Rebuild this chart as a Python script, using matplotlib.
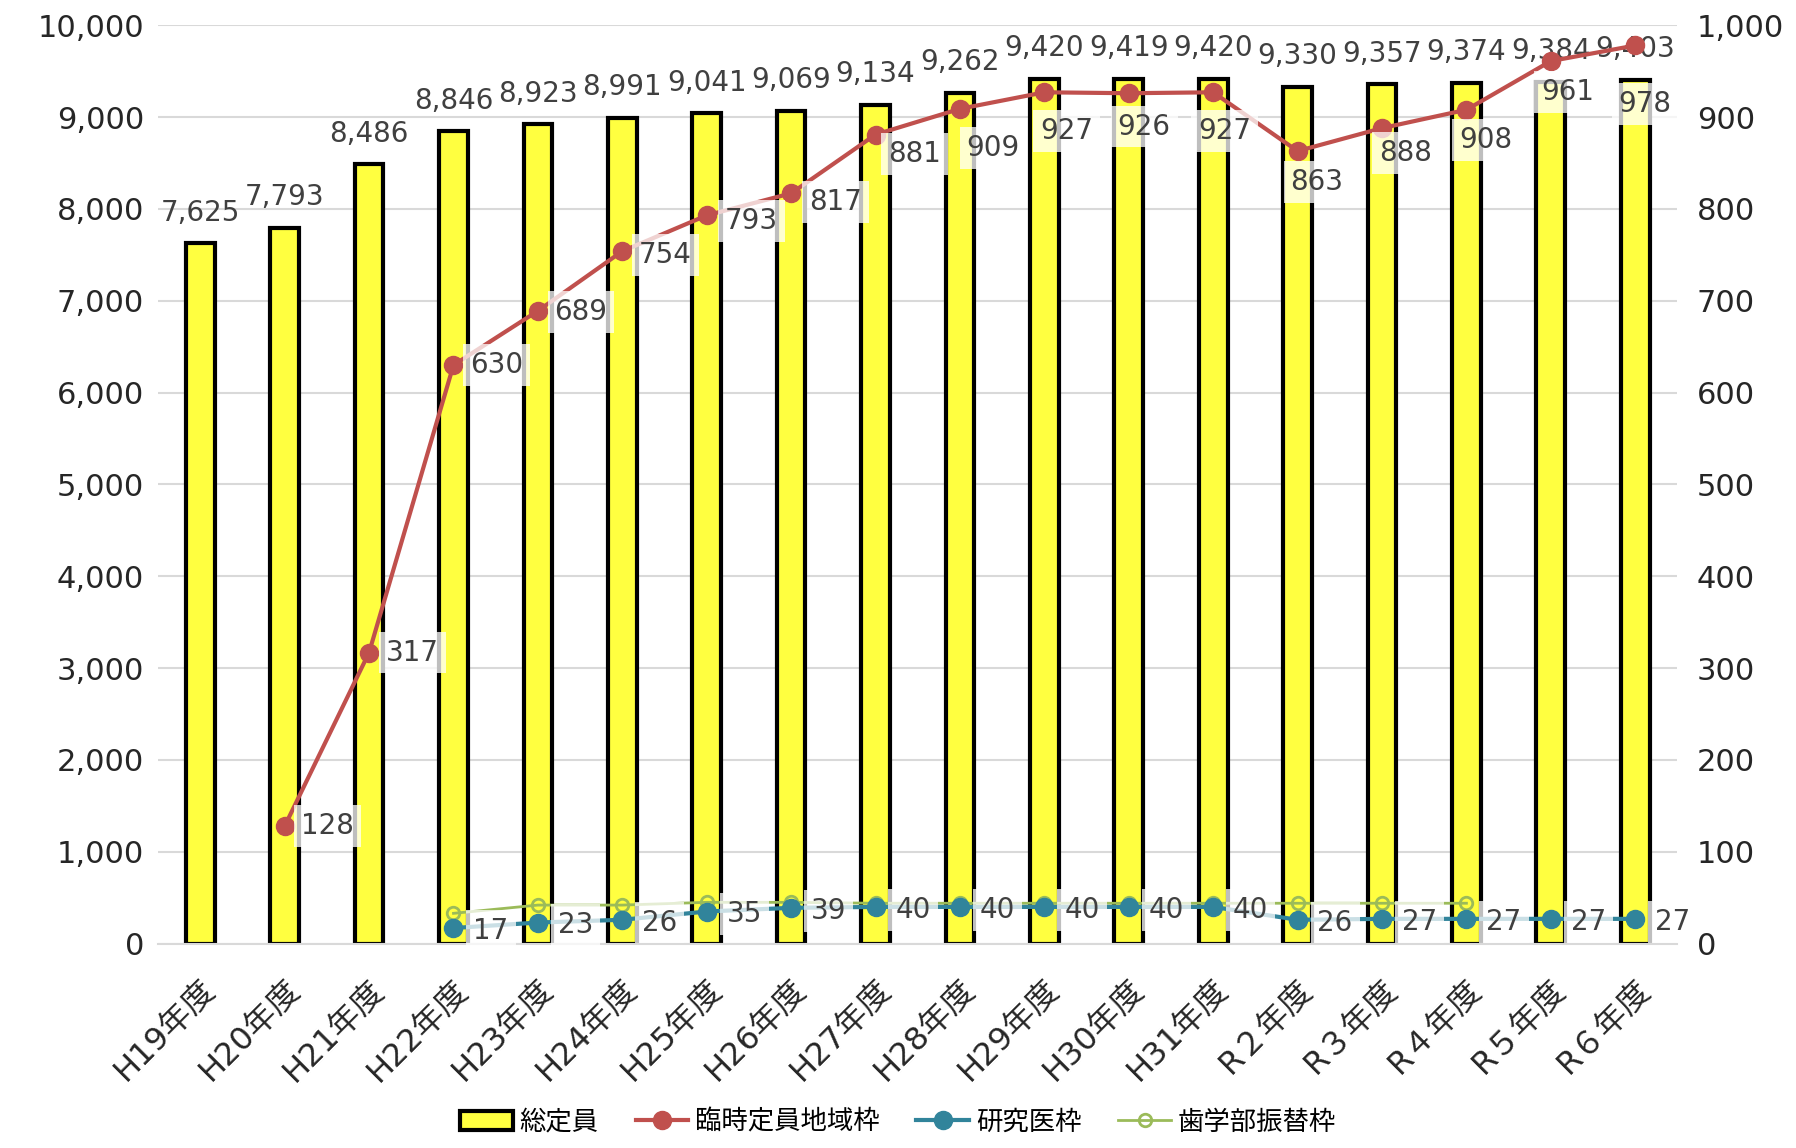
import matplotlib
matplotlib.use("Agg")
import matplotlib.pyplot as plt

plt.rcParams['font.family'] = ['DejaVu Sans', 'Noto Sans CJK JP']

# ----------------------------
# data
# ----------------------------
years = ["H19年度", "H20年度", "H21年度", "H22年度", "H23年度", "H24年度",
         "H25年度", "H26年度", "H27年度", "H28年度", "H29年度", "H30年度",
         "H31年度", "R２年度", "R３年度", "R４年度", "R５年度", "R６年度"]

total = [7625, 7793, 8486, 8846, 8923, 8991, 9041, 9069, 9134, 9262,
         9420, 9419, 9420, 9330, 9357, 9374, 9384, 9403]

# 臨時定員地域枠 (starts H20)
regional = [None, 128, 317, 630, 689, 754, 793, 817, 881, 909,
            927, 926, 927, 863, 888, 908, 961, 978]

# 研究医枠 (starts H22)
research = [None, None, None, 17, 23, 26, 35, 39, 40, 40,
            40, 40, 40, 26, 27, 27, 27, 27]

# 歯学部振替枠 (H22 - R4, values read off, no labels)
dental = [None, None, None, 33, 42, 42, 45, 45, 44, 44,
          44, 44, 44, 44, 44, 44, None, None]

RED = "#C0504D"
BLUE = "#31849B"
GREEN = "#9BBB59"
TXT = "#404040"

fig = plt.figure(figsize=(17.96, 11.48), dpi=100)
ax = fig.add_axes([0.088, 0.178, 0.846, 0.800])
ax2 = ax.twinx()

x = list(range(len(years)))

# bars
ax.bar(x, total, width=0.34, color="#FFFF40", edgecolor="black", linewidth=3,
       zorder=2, label="総定員")
for i, v in enumerate(total):
    ax.annotate(f"{v:,}", (i, v), xytext=(0, 12), textcoords="offset points",
                ha="center", va="bottom", fontsize=20, color=TXT)

ax.set_ylim(0, 10000)
ax.set_yticks(range(0, 10001, 1000))
ax.set_yticklabels([f"{v:,}" for v in range(0, 10001, 1000)])
ax.set_xlim(-0.5, len(years) - 0.5)
ax.set_xticks(x)
ax.set_xticklabels(years, rotation=45, ha="right", rotation_mode="anchor")
ax.grid(axis="y", color="#D9D9D9", linewidth=1.5, zorder=0)
ax.set_axisbelow(True)
ax.tick_params(axis="y", length=0, labelsize=22, colors="#262626", pad=10)
ax.tick_params(axis="x", length=0, labelsize=23, colors="#262626", pad=22)

ax2.set_ylim(0, 1000)
ax2.set_yticks(range(0, 1001, 100))
ax2.set_yticklabels([f"{v:,}" for v in range(0, 1001, 100)])
ax2.tick_params(axis="y", length=0, labelsize=22, colors="#262626", pad=14)

for a in (ax, ax2):
    for s in a.spines.values():
        s.set_visible(False)
ax.spines["bottom"].set_visible(True)
ax.spines["bottom"].set_color("#D9D9D9")
ax.spines["bottom"].set_linewidth(1.5)


def pts(series):
    xs = [i for i, v in enumerate(series) if v is not None]
    return xs, [series[i] for i in xs]


rx, ry = pts(regional)
bx, by = pts(research)
gx, gy = pts(dental)

ax2.plot(gx, gy, color=GREEN, linewidth=2, marker="o", markersize=9,
         markerfacecolor="none", markeredgewidth=2, zorder=3, label="歯学部振替枠")
ax2.plot(bx, by, color=BLUE, linewidth=3, marker="o", markersize=13,
         zorder=4, label="研究医枠")
ax2.plot(rx, ry, color=RED, linewidth=3, marker="o", markersize=13,
         zorder=5, label="臨時定員地域枠")

# label offsets (points) for the red series, H20..R6
red_offsets = [(31, 0), (31, 0), (31, 0), (31, -1), (31, -3), (32, -4), (32, -6),
               (28, -14), (24, -28), (16, -28), (11, -24), (8, -28),
               (14, -22), (17, -18), (14, -22), (12, -22), (7, -42)]
box = dict(boxstyle="square,pad=0.25", facecolor="white", edgecolor="none", alpha=0.75)
for (xi, yi), off in zip(zip(rx, ry), red_offsets):
    ax2.annotate(f"{yi}", (xi, yi), xytext=off, textcoords="offset points",
                 ha="center", va="center", fontsize=20, color=TXT, bbox=box, zorder=6)

for xi, yi in zip(bx, by):
    ax2.annotate(f"{yi}", (xi, yi), xytext=(27, -2), textcoords="offset points",
                 ha="center", va="center", fontsize=20, color=TXT, bbox=box, zorder=6)

h1, l1 = ax.get_legend_handles_labels()
h2, l2 = ax2.get_legend_handles_labels()
order = [2, 1, 0]
handles = h1 + [h2[i] for i in order]
labels = l1 + [l2[i] for i in order]
fig.legend(handles, labels, loc="lower center", ncol=4, frameon=False,
           fontsize=19, bbox_to_anchor=(0.5, -0.01), handlelength=2.0,
           columnspacing=1.4, handletextpad=0.25)

fig.savefig("out.png", dpi=100)
